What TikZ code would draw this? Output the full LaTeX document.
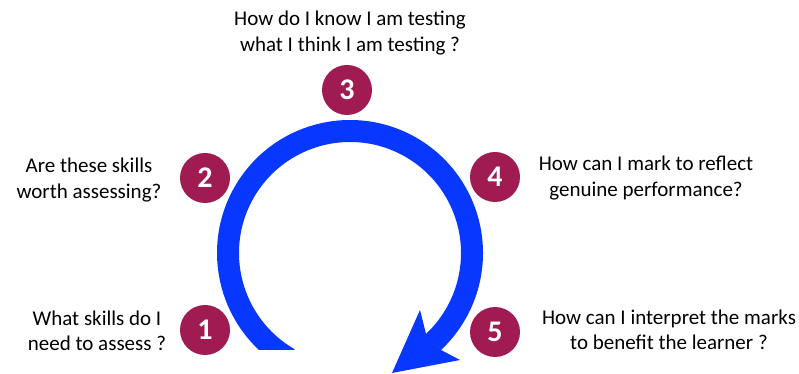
\documentclass[tikz,border=0pt]{standalone}
\usepackage{fontspec}
\setmainfont{Carlito}
\definecolor{arrowblue}{RGB}{8,56,255}
\definecolor{numred}{RGB}{160,27,82}
\begin{document}
\begin{tikzpicture}[x=1pt,y=1pt,
  numdot/.style={circle,fill=numred,minimum size=50pt,inner sep=0pt,text=white,font=\fontsize{30}{32}\selectfont\bfseries},
  question/.style={align=center,font=\fontsize{21}{25.5}\selectfont,text=black,inner sep=0pt}]
\useasboundingbox (0,0) rectangle (799,374);
% arc
\begin{scope}
  \clip (0,24) rectangle (799,374);
  \draw[arrowblue,line width=22pt] (350,121) ++(240:122) arc[start angle=240,end angle=-47,radius=122];
\end{scope}
\fill[arrowblue] (392,1) -- (420,64) -- (426,40) -- (441,24) -- (460,14) -- cycle;
% numbers
\node[numdot] (n3) at (347,284) {3};
\node[numdot] (n2) at (205,196) {2};
\node[numdot] (n4) at (495,197) {4};
\node[numdot] (n1) at (205,44) {1};
\node[numdot] (n5) at (495,42) {5};
% questions
\node[question] (q3) at (350,341) {How do I know I am testing\\what I think I am testing ?};
\node[question] (q2) at (89,194) {Are these skills\\worth assessing?};
\node[question] (q4) at (646,196) {How can I mark to reflect\\genuine performance?};
\node[question] (q1) at (97,43) {What skills do I\\need to assess ?};
\node[question] (q5) at (669,44) {How can I interpret the marks\\to benefit the learner ?};
\end{tikzpicture}
\end{document}
